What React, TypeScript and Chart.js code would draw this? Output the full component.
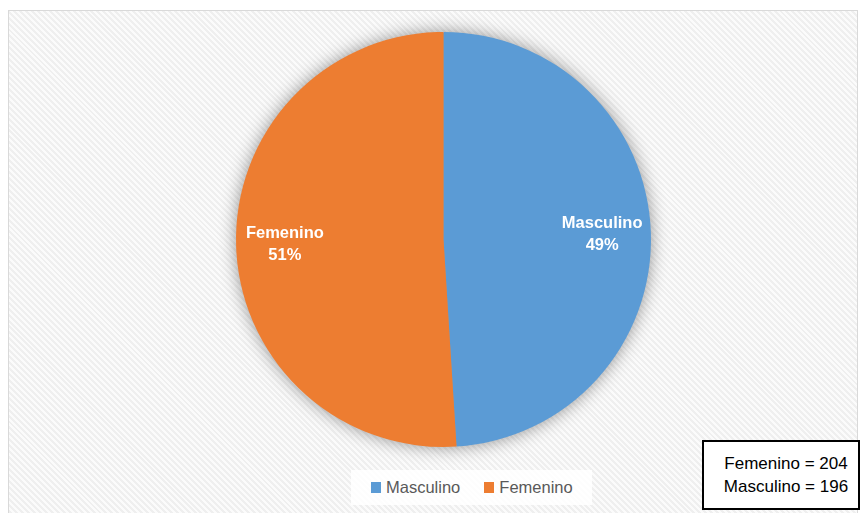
import React, { useEffect, useRef } from "react";
import { Chart, registerables } from "chart.js";

Chart.register(...registerables);

const categories = ["Masculino", "Femenino"];
const counts = [196, 204];
const percentLabels = ["49%", "51%"];
const colors = ["#5B9BD5", "#ED7D31"];
const boxLines = ["Femenino = 204", "Masculino = 196"];

const shadowPlugin = {
  id: "pieShadow",
  beforeDatasetsDraw(chart: any) {
    const meta = chart.getDatasetMeta(0);
    const arc = meta.data[0];
    if (!arc) return;
    const { x, y, outerRadius } = arc.getProps(["x", "y", "outerRadius"], true);
    const ctx = chart.ctx;
    ctx.save();
    ctx.shadowColor = "rgba(0,0,0,0.45)";
    ctx.shadowBlur = 18;
    ctx.beginPath();
    ctx.arc(x, y, outerRadius - 1, 0, Math.PI * 2);
    ctx.fillStyle = "#999";
    ctx.fill();
    ctx.restore();
  },
};

const labelPlugin = {
  id: "sliceLabels",
  afterDatasetsDraw(chart: any) {
    const meta = chart.getDatasetMeta(0);
    const ctx = chart.ctx;
    ctx.save();
    ctx.fillStyle = "#ffffff";
    ctx.font = "bold 16.5px 'Liberation Sans', Arial, sans-serif";
    ctx.textAlign = "center";
    ctx.textBaseline = "middle";
    meta.data.forEach((el: any, i: number) => {
      const { x, y, startAngle, endAngle, outerRadius } = el.getProps(
        ["x", "y", "startAngle", "endAngle", "outerRadius"],
        true
      );
      const mid = (startAngle + endAngle) / 2;
      const r = outerRadius * 0.765;
      const cx = x + Math.cos(mid) * r;
      const cy = y + Math.sin(mid) * r;
      ctx.fillText(categories[i], cx, cy - 11);
      ctx.fillText(percentLabels[i], cx, cy + 11);
    });
    ctx.restore();
  },
};

export default function App() {
  const ref = useRef<HTMLCanvasElement | null>(null);

  useEffect(() => {
    if (!ref.current) return;
    const chart = new Chart(ref.current, {
      type: "pie",
      data: {
        labels: categories,
        datasets: [
          {
            data: counts,
            backgroundColor: colors,
            borderWidth: 0,
          },
        ],
      },
      options: {
        animation: false,
        responsive: false,
        maintainAspectRatio: false,
        layout: { padding: 23 },
        plugins: {
          legend: { display: false },
          tooltip: { enabled: false },
        },
      },
      plugins: [shadowPlugin, labelPlugin],
    });
    return () => chart.destroy();
  }, []);

  const font = "'Liberation Sans', Arial, sans-serif";

  return (
    <div>
      <div
        style={{
          position: "fixed",
          left: 8,
          top: 10,
          width: 848,
          height: 510,
          border: "1px solid #d9d9d9",
          background:
            "repeating-linear-gradient(45deg, #fbfbfb 0px, #fbfbfb 2.1px, #efefef 2.1px, #efefef 4.2px)",
        }}
      />
      <canvas
        ref={ref}
        width={461}
        height={461}
        style={{ position: "fixed", left: 213, top: 9, width: 461, height: 461 }}
      />
      <div
        style={{
          position: "fixed",
          left: 351,
          top: 470,
          width: 241,
          height: 35,
          background: "rgba(255,255,255,0.85)",
          display: "flex",
          alignItems: "center",
          fontFamily: font,
          fontSize: 16.5,
          color: "#595959",
        }}
      >
        {categories.map((c, i) => (
          <div
            key={c}
            style={{
              display: "flex",
              alignItems: "center",
              marginLeft: i === 0 ? 20 : 24,
            }}
          >
            <span
              style={{
                display: "inline-block",
                width: 10,
                height: 11,
                background: colors[i],
                marginRight: 5,
              }}
            />
            <span>{c}</span>
          </div>
        ))}
      </div>
      <div
        style={{
          position: "fixed",
          left: 702,
          top: 440,
          width: 154,
          height: 66,
          border: "2px solid #000",
          background: "#fff",
          fontFamily: font,
          fontSize: 17,
          color: "#000",
          display: "flex",
          flexDirection: "column",
          alignItems: "center",
          justifyContent: "center",
          lineHeight: "23.5px",
        }}
      >
        {boxLines.map((l) => (
          <div key={l} style={{ paddingLeft: 10 }}>{l}</div>
        ))}
      </div>
    </div>
  );
}
